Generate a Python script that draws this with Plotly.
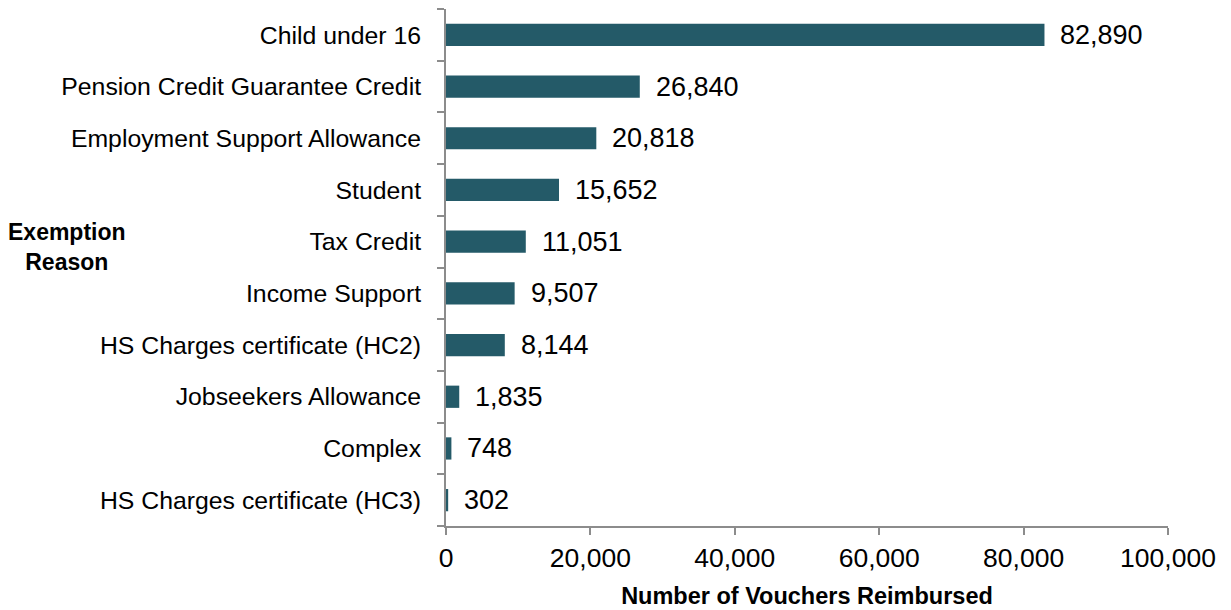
import plotly.graph_objects as go

reasons = [
    "Child under 16",
    "Pension Credit Guarantee Credit",
    "Employment Support Allowance",
    "Student",
    "Tax Credit",
    "Income Support",
    "HS Charges certificate (HC2)",
    "Jobseekers Allowance",
    "Complex",
    "HS Charges certificate (HC3)",
]
vouchers = [82890, 26840, 20818, 15652, 11051, 9507, 8144, 1835, 748, 302]
x_ticks = [0, 20000, 40000, 60000, 80000, 100000]

FONT = "Liberation Sans"
BAR = "#245a68"
AXIS = "#8c8c8c"

fig = go.Figure(
    go.Bar(
        x=vouchers,
        y=reasons,
        orientation="h",
        marker=dict(color=BAR, line=dict(width=0)),
        width=0.43,
        hoverinfo="x+y",
    )
)

# value labels placed just past the end of each bar
value_labels = [
    dict(
        x=v, y=r, xref="x", yref="y",
        text=f"{v:,}",
        xanchor="left", yanchor="middle",
        xshift=14,
        showarrow=False,
        font=dict(family=FONT, size=27, color="#000"),
    )
    for r, v in zip(reasons, vouchers)
]

fig.update_layout(
    width=1231,
    height=610,
    margin=dict(l=446, r=63, t=9, b=84),
    plot_bgcolor="white",
    paper_bgcolor="white",
    showlegend=False,
    font=dict(family=FONT, color="#000"),
    annotations=value_labels + [
        dict(
            text="<b>Exemption</b><br><b>Reason</b>",
            xref="paper", yref="paper",
            x=-0.525, y=0.54,
            xanchor="center", yanchor="middle",
            showarrow=False,
            font=dict(family=FONT, size=23, color="#000"),
        )
    ],
)

fig.update_xaxes(
    range=[0, 100000],
    tickvals=x_ticks,
    ticktext=[f"{v:,}" for v in x_ticks],
    tickfont=dict(family=FONT, size=26.5),
    ticks="outside",
    ticklen=7,
    tickcolor=AXIS,
    tickwidth=2,
    showline=True,
    linecolor=AXIS,
    linewidth=2,
    showgrid=False,
    zeroline=False,
    automargin=False,
    title=dict(
        text="<b>Number of Vouchers Reimbursed</b>",
        font=dict(family=FONT, size=23.5),
        standoff=16,
    ),
)

fig.update_yaxes(
    categoryorder="array",
    categoryarray=reasons[::-1],
    tickfont=dict(family=FONT, size=24.8),
    ticks="outside",
    tickson="boundaries",
    ticklen=7,
    tickcolor=AXIS,
    tickwidth=2,
    showline=True,
    linecolor=AXIS,
    linewidth=2,
    showgrid=False,
    zeroline=False,
    automargin=False,
    ticklabelstandoff=18,
)

fig.write_html("out.html")
